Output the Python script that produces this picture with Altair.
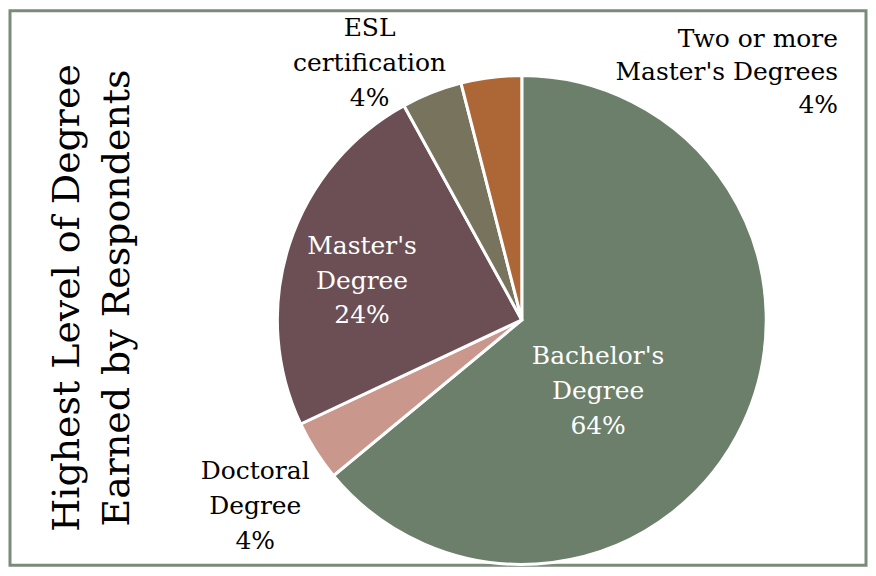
import math
import altair as alt
import pandas as pd

# ---- data ----
categories = ["Bachelor's Degree", "Doctoral Degree", "Master's Degree",
              "ESL certification", "Two or more Master's Degrees"]
counts = [16, 1, 6, 1, 1]
percent_labels = ["64%", "4%", "24%", "4%", "4%"]
label_lines = [["Bachelor's", "Degree"], ["Doctoral", "Degree"],
               ["Master's", "Degree"], ["ESL", "certification"],
               ["Two or more", "Master's Degrees"]]
colors = ["#6b7f6b", "#c9978c", "#6b4f54", "#78735c", "#ad6636"]
title_lines = ["Highest Level of Degree", "Earned by Respondents"]

df = pd.DataFrame({
    "cat": categories,
    "count": counts,
    "order": list(range(len(categories))),
    "label": [lines + [p] for lines, p in zip(label_lines, percent_labels)],
})

FONT = "DejaVu Serif"
CX, CY = 513, 310
R = 245

base = alt.Chart(df)

arcs = base.mark_arc(outerRadius=R, stroke="white", strokeWidth=3).encode(
    theta=alt.Theta("count:Q", stack=True),
    order=alt.Order("order:Q"),
    color=alt.Color("cat:N", scale=alt.Scale(domain=categories, range=colors), legend=None),
    x=alt.value(CX),
    y=alt.value(CY),
)

# label placement style: (radius, dx, dy, align, color, lineHeight)
label_style = {
    "Bachelor's Degree": (100, -14, -6, "center", "white", 35),
    "Doctoral Degree": (320, 3, -20, "center", "black", 35),
    "Master's Degree": (160, -8, -25, "center", "white", 35),
    "ESL certification": (295, -44, -18, "center", "black", 35),
    "Two or more Master's Degrees": (280, 352, -4, "right", "black", 33),
}

layers = [arcs]
for cat in categories:
    r, dx, dy, align, col, lh = label_style[cat]
    t = (
        base.transform_joinaggregate(total="sum(count)")
        .transform_window(cum="sum(count)", sort=[alt.SortField("order")], frame=[None, 0])
        .transform_calculate(mid="(datum.cum - datum.count / 2) / datum.total")
        .transform_filter(alt.datum.cat == cat)
        .mark_text(radius=r, dx=dx, dy=dy, align=align, baseline="middle",
                   font=FONT, fontSize=25, lineHeight=lh, color=col)
        .encode(
            theta=alt.Theta("mid:Q", scale=alt.Scale(domain=[0, 1], range=[0, 2 * math.pi])),
            text="label",
            x=alt.value(CX),
            y=alt.value(CY),
        )
    )
    layers.append(t)

title = alt.Chart(pd.DataFrame({"t": [title_lines]})).mark_text(
    angle=270, align="center", baseline="middle", font=FONT, fontSize=38,
    lineHeight=50, color="black"
).encode(text="t", x=alt.value(58), y=alt.value(288))
layers.append(title)

chart = (
    alt.layer(*layers)
    .resolve_scale(theta="independent")
    .properties(width=858, height=556,
                padding={"left": 2, "top": 2, "right": 2, "bottom": 2},
                autosize="none")
    .configure_view(stroke="#7b8b7b", strokeWidth=3)
)

chart.save("out.html", embed_options={"renderer": "svg", "actions": False})
